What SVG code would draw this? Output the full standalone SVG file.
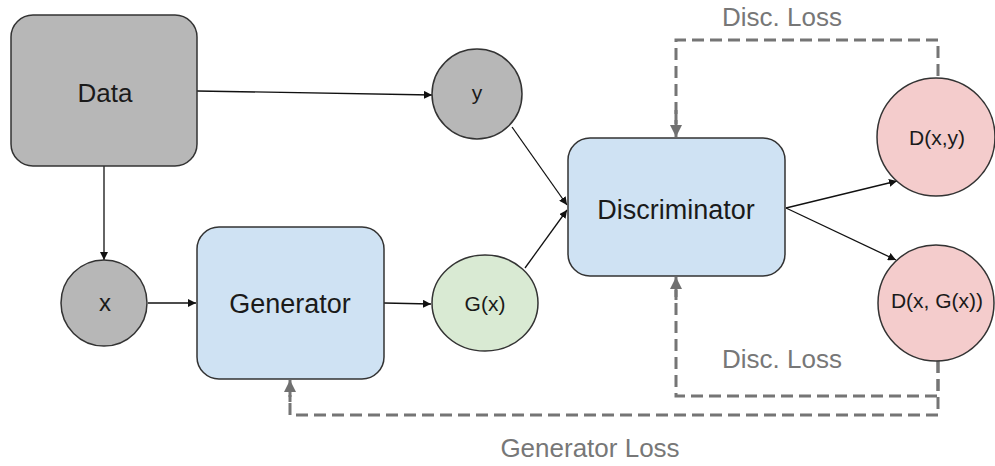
<svg xmlns="http://www.w3.org/2000/svg" width="995" height="466" viewBox="0 0 995 466">
<defs>
<style>
.node{stroke:#333;stroke-width:1.5}
.gray{fill:#b7b7b7}
.blue{fill:#cfe2f3}
.green{fill:#d9ead3}
.pink{fill:#f4cccc}
.lbl{font-family:"Liberation Sans",Arial,sans-serif;fill:#1a1a1a;text-anchor:middle;dominant-baseline:central}
.big{font-size:27px}
.small{font-size:21px}
.loss{font-family:"Liberation Sans",Arial,sans-serif;fill:#777;font-size:26px;text-anchor:middle;dominant-baseline:central}
.edge{stroke:#111;stroke-width:1.3;fill:none;marker-end:url(#ah)}
.dash{stroke:#757575;stroke-width:3;fill:none;stroke-dasharray:12 6}
</style>
<marker id="ah" viewBox="0 0 10 10" refX="10" refY="5" markerWidth="8" markerHeight="8" markerUnits="userSpaceOnUse" orient="auto"><path d="M0,0 L10,5 L0,10 z" fill="#111"/></marker>
<marker id="gh" viewBox="0 0 10 10" refX="10" refY="5" markerWidth="13" markerHeight="12" markerUnits="userSpaceOnUse" orient="auto"><path d="M0,0 L10,5 L0,10 z" fill="#707070"/></marker>
</defs>
<g id="connectors">
<path class="edge" d="M197,91 L432,95"/>
<path class="edge" d="M104,166 L104,260"/>
<path class="edge" d="M148,303 L196,303"/>
<path class="edge" d="M384,303 L431,304"/>
<path class="edge" d="M512,127 L567,205"/>
<path class="edge" d="M525,268 L567,210"/>
<path class="edge" d="M786,208 L897,181"/>
<path class="edge" d="M786,208 L896,260"/>
<path class="dash" d="M938,76 L938,40 L676,40 L676,124"/>
<path d="M676,110 L676,137" stroke="#757575" stroke-width="3" fill="none" marker-end="url(#gh)"/>
<path class="dash" d="M938,361 L938,396 L676,396 L676,290"/>
<path d="M676,300 L676,277" stroke="#757575" stroke-width="3" fill="none" marker-end="url(#gh)"/>
<path class="dash" d="M938,361 L938,415 L290,415 L290,395"/>
<path d="M290,402 L290,380" stroke="#757575" stroke-width="3" fill="none" marker-end="url(#gh)"/>
</g>
<g id="data"><rect class="node gray" x="11" y="15" width="186" height="151" rx="22"/><text class="lbl" font-size="26" x="105" y="93">Data</text></g>
<g id="y"><circle class="node gray" cx="477" cy="94" r="45"/><text class="lbl small" x="477" y="92">y</text></g>
<g id="x"><circle class="node gray" cx="104" cy="303" r="43"/><text class="lbl" font-size="24" x="105" y="302">x</text></g>
<g id="generator"><rect class="node blue" x="197" y="227" width="187" height="152" rx="22"/><text class="lbl big" x="290" y="304">Generator</text></g>
<g id="gx"><ellipse class="node green" cx="485" cy="303" rx="53" ry="48"/><text class="lbl small" x="485" y="303">G(x)</text></g>
<g id="discriminator"><rect class="node blue" x="568" y="138" width="217" height="138" rx="22"/><text class="lbl big" x="676" y="210">Discriminator</text></g>
<g id="dxy"><circle class="node pink" cx="936" cy="137" r="59"/><text class="lbl small" x="937" y="137">D(x,y)</text></g>
<g id="dxgx"><circle class="node pink" cx="936" cy="303" r="58"/><text class="lbl small" x="937" y="300">D(x, G(x))</text></g>
<text class="loss" x="782" y="17">Disc. Loss</text>
<text class="loss" x="782" y="359">Disc. Loss</text>
<text class="loss" x="590" y="448">Generator Loss</text>
</svg>
